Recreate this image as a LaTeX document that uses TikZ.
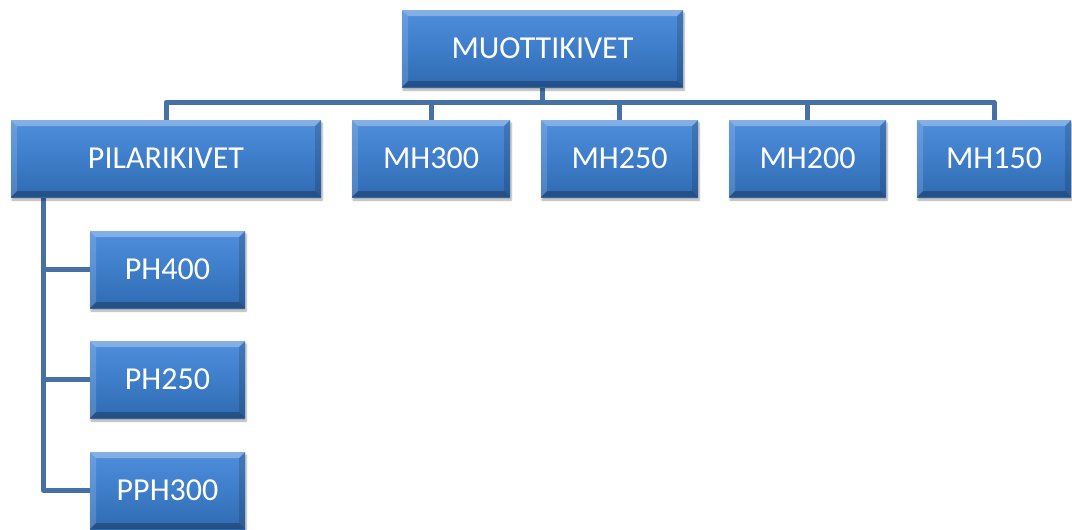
\documentclass[tikz,border=0pt]{standalone}
\usepackage{fontspec}
\setmainfont{Carlito}
\usetikzlibrary{shadows.blur,backgrounds}
\definecolor{boxtop}{HTML}{4F8EDA}
\definecolor{boxmid}{HTML}{3E7DC9}
\definecolor{boxbot}{HTML}{306BB2}
\definecolor{connc}{HTML}{4571A6}
\tikzset{
  box/.style={rectangle, draw=none, top color=boxtop, bottom color=boxbot, middle color=boxmid,
    text=white, font=\fontsize{32}{36}\selectfont, minimum height=77pt, inner sep=0pt,
    blur shadow={shadow blur steps=6, shadow xshift=1pt, shadow yshift=-3pt, shadow opacity=35},
    path picture={
      \fill[white,opacity=.30] (path picture bounding box.north west) -- (path picture bounding box.north east)
        -- ([xshift=-6pt,yshift=-6pt]path picture bounding box.north east) -- ([xshift=6pt,yshift=-6pt]path picture bounding box.north west) -- cycle;
      \fill[white,opacity=.15] (path picture bounding box.north west) -- (path picture bounding box.south west)
        -- ([xshift=6pt,yshift=6pt]path picture bounding box.south west) -- ([xshift=6pt,yshift=-6pt]path picture bounding box.north west) -- cycle;
      \fill[black,opacity=.25] (path picture bounding box.south west) -- (path picture bounding box.south east)
        -- ([xshift=-6pt,yshift=6pt]path picture bounding box.south east) -- ([xshift=6pt,yshift=6pt]path picture bounding box.south west) -- cycle;
      \fill[black,opacity=.15] (path picture bounding box.north east) -- (path picture bounding box.south east)
        -- ([xshift=-6pt,yshift=6pt]path picture bounding box.south east) -- ([xshift=-6pt,yshift=-6pt]path picture bounding box.north east) -- cycle;
    }},
  conn/.style={draw=connc, line width=5pt, line join=round}
}
\begin{document}
\begin{tikzpicture}[x=1pt,y=-1pt]
\useasboundingbox (0,0) rectangle (1072,530);
\node[box, minimum width=281pt] (root) at (542.5,48.5) {MUOTTIKIVET};
\node[box, minimum width=310pt] (pil) at (166,158.5) {PILARIKIVET};
\node[box, minimum width=158pt] (mh300) at (431,158.5) {MH300};
\node[box, minimum width=157pt] (mh250) at (619.5,158.5) {MH250};
\node[box, minimum width=157pt] (mh200) at (807.5,158.5) {MH200};
\node[box, minimum width=154pt] (mh150) at (994,158.5) {MH150};
\node[box, minimum width=155pt] (ph400) at (167.5,269.5) {PH400};
\node[box, minimum width=155pt] (ph250) at (167.5,379.5) {PH250};
\node[box, minimum width=155pt] (pph300) at (167.5,490.5) {PPH300};
\begin{scope}[on background layer]
\foreach \n in {pil,mh300,mh250,mh200,mh150}
  \draw[conn] (root.south) -- ++(0,15) -| (\n.north);
\coordinate (lv) at ([xshift=33pt]pil.south west);
\foreach \n in {ph400,ph250,pph300}
  \draw[conn] (lv) |- (\n.west);
\end{scope}
\end{tikzpicture}
\end{document}
